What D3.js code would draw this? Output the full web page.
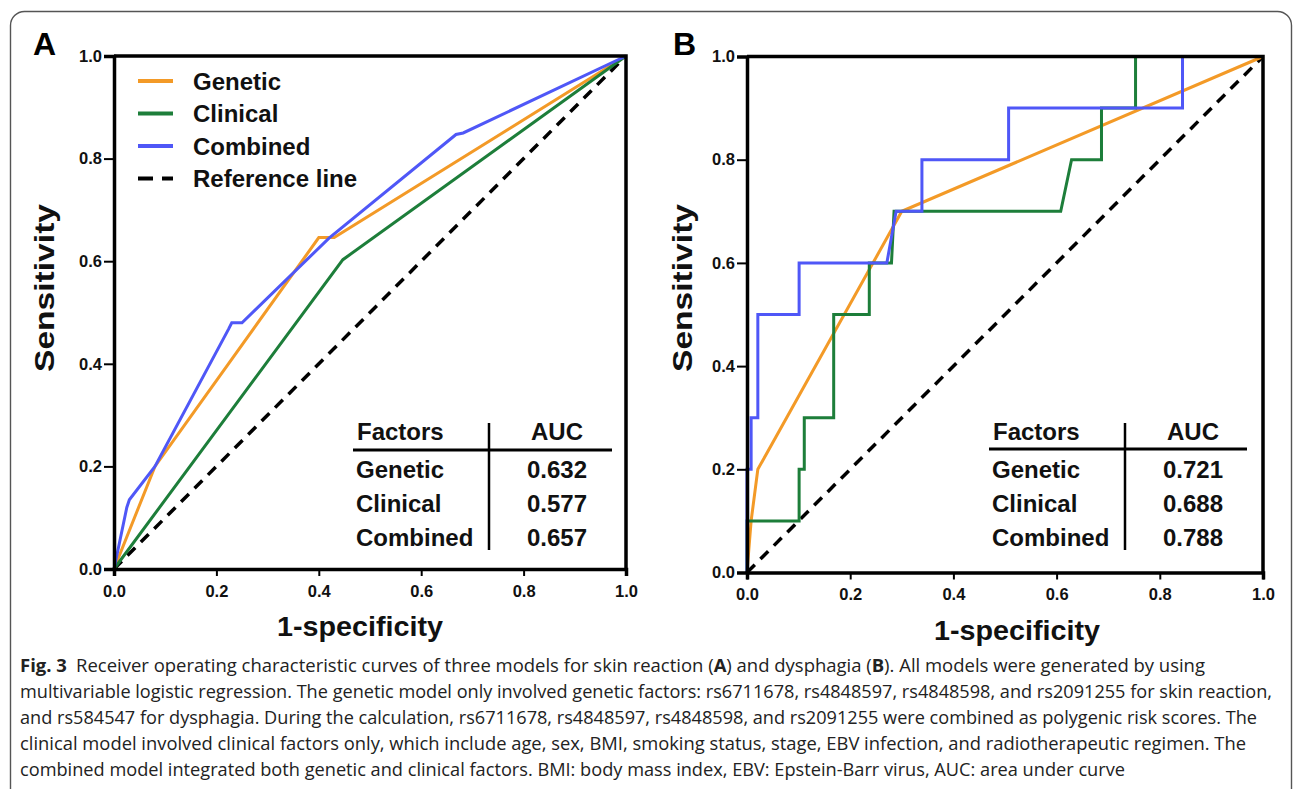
<!DOCTYPE html>
<html><head><meta charset="utf-8">
<script src="https://cdn.jsdelivr.net/npm/d3@7"></script>
<style>
html,body{margin:0;padding:0;background:#fff;}
svg{display:block;}
</style></head>
<body>
<svg id="chart" width="1293" height="789"></svg>
<script>
// ---------- data ----------
const ticks = [0, 0.2, 0.4, 0.6, 0.8, 1.0];
const seriesNames = ["Genetic", "Clinical", "Combined"];
const seriesColors = ["#F39A27", "#1D7E3A", "#4F57F7"];

// Panel A (skin reaction)
const A_genetic_x  = [0, 0.08, 0.40, 0.43, 1];
const A_genetic_y  = [0, 0.20, 0.646, 0.646, 1];
const A_clinical_x = [0, 0.447, 1];
const A_clinical_y = [0, 0.603, 1];
const A_combined_x = [0, 0.025, 0.03, 0.08, 0.224, 0.23, 0.25, 0.42, 0.668, 0.682, 1];
const A_combined_y = [0, 0.12, 0.135, 0.20, 0.468, 0.48, 0.48, 0.645, 0.847, 0.85, 1];
const A_auc = ["0.632", "0.577", "0.657"];

// Panel B (dysphagia)
const B_genetic_x  = [0, 0.008, 0.021, 0.30, 1];
const B_genetic_y  = [0, 0.10, 0.20, 0.70, 1];
const B_clinical_x = [0, 0, 0.101, 0.101, 0.111, 0.111, 0.168, 0.168, 0.237, 0.237, 0.28, 0.285, 0.608, 0.629, 0.687, 0.687, 0.753, 0.753, 1];
const B_clinical_y = [0, 0.1, 0.1, 0.2, 0.2, 0.3, 0.3, 0.5, 0.5, 0.6, 0.6, 0.7, 0.7, 0.8, 0.8, 0.9, 0.9, 1.0, 1.0];
const B_combined_x = [0, 0, 0.008, 0.008, 0.021, 0.021, 0.101, 0.101, 0.271, 0.289, 0.339, 0.339, 0.507, 0.507, 0.844, 0.844, 1];
const B_combined_y = [0, 0.2, 0.2, 0.3, 0.3, 0.5, 0.5, 0.6, 0.6, 0.7, 0.7, 0.8, 0.8, 0.9, 0.9, 1.0, 1.0];
const B_auc = ["0.721", "0.688", "0.788"];

const legendLabels = ["Genetic", "Clinical", "Combined", "Reference line"];
const tableHeader = ["Factors", "AUC"];
const xTitle = "1-specificity";
const yTitle = "Sensitivity";

const captionLines = [
  [["Fig. 3", true], ["\u2002Receiver operating characteristic curves of three models for skin reaction (", false], ["A", true], [") and dysphagia (", false], ["B", true], ["). All models were generated by using", false]],
  [["multivariable logistic regression. The genetic model only involved genetic factors: rs6711678, rs4848597, rs4848598, and rs2091255 for skin reaction,", false]],
  [["and rs584547 for dysphagia. During the calculation, rs6711678, rs4848597, rs4848598, and rs2091255 were combined as polygenic risk scores. The", false]],
  [["clinical model involved clinical factors only, which include age, sex, BMI, smoking status, stage, EBV infection, and radiotherapeutic regimen. The", false]],
  [["combined model integrated both genetic and clinical factors. BMI: body mass index, EBV: Epstein-Barr virus, AUC: area under curve", false]]
];
const captionLineEnds = [1205, 1272, 1257, 1246, 1125];

// ---------- drawing ----------
const svg = d3.select("#chart");
const FONT = "'Liberation Sans', Arial, Helvetica, sans-serif";

svg.append("rect").attr("x", 10.5).attr("y", 11.5).attr("width", 1281).attr("height", 820)
  .attr("rx", 14).attr("fill", "none").attr("stroke", "#555").attr("stroke-width", 1.4);

function panel(cfg) {
  const x = d3.scaleLinear().domain([0, 1]).range([cfg.x0, cfg.x1]);
  const y = d3.scaleLinear().domain([0, 1]).range([cfg.y0, cfg.y1]);
  const g = svg.append("g");

  g.append("text").attr("x", cfg.letterX).attr("y", 55).text(cfg.letter)
    .attr("font-family", FONT).attr("font-weight", "bold").attr("font-size", 32).attr("fill", "#000");

  const line = d3.line().x(d => x(d[0])).y(d => y(d[1]));
  g.append("path").datum([[0, 0], [1, 1]]).attr("d", line)
    .attr("stroke", "#000").attr("stroke-width", 3.5).attr("stroke-dasharray", "11,8").attr("fill", "none");

  cfg.series.forEach((s, i) => {
    const pts = s.x.map((v, k) => [v, s.y[k]]);
    g.append("path").datum(pts).attr("d", line)
      .attr("stroke", seriesColors[i]).attr("stroke-width", 3).attr("fill", "none")
      .attr("stroke-linejoin", "miter");
  });

  g.append("path").attr("d", `M${x(0)},${y(1)}H${x(1)}V${y(0)}`)
    .attr("stroke", "#000").attr("stroke-width", 3.5).attr("fill", "none");

  const fmt = d3.format(".1f");
  const ax = g.append("g").attr("transform", `translate(0,${y(0)})`)
    .call(d3.axisBottom(x).tickValues(ticks).tickFormat(fmt).tickSize(7).tickPadding(9));
  const ay = g.append("g").attr("transform", `translate(${x(0)},0)`)
    .call(d3.axisLeft(y).tickValues(ticks).tickFormat(fmt).tickSize(10).tickPadding(2));
  [ax, ay].forEach(a => {
    a.select(".domain").attr("stroke", "#000").attr("stroke-width", 3.5);
    a.selectAll(".tick line").attr("stroke", "#000").attr("stroke-width", 2);
    a.selectAll(".tick text").attr("font-family", FONT).attr("font-weight", "bold")
      .attr("font-size", 16.5).attr("fill", "#111");
  });

  g.append("text").attr("x", cfg.xTitleX).attr("y", cfg.y0 + 67).attr("text-anchor", "middle")
    .attr("font-family", FONT).attr("font-weight", "bold").attr("font-size", 27).attr("fill", "#111")
    .attr("textLength", 166).attr("lengthAdjust", "spacingAndGlyphs").text(xTitle);
  g.append("text").attr("transform", `translate(${cfg.yTitleX},${cfg.yTitleY}) rotate(-90)`)
    .attr("text-anchor", "middle")
    .attr("font-family", FONT).attr("font-weight", "bold").attr("font-size", 27.5).attr("fill", "#111")
    .attr("textLength", 168).attr("lengthAdjust", "spacingAndGlyphs").text(yTitle);

  const t = cfg.table;
  g.append("line").attr("x1", t.hx1).attr("x2", t.hx2).attr("y1", t.hy).attr("y2", t.hy)
    .attr("stroke", "#000").attr("stroke-width", 3);
  g.append("line").attr("x1", t.vx).attr("x2", t.vx).attr("y1", 423).attr("y2", 550)
    .attr("stroke", "#000").attr("stroke-width", 2.5);
  const txt = (xx, yy, s, anchor) => g.append("text").attr("x", xx).attr("y", yy).text(s)
    .attr("text-anchor", anchor).attr("font-family", FONT).attr("font-weight", "bold")
    .attr("font-size", 24).attr("fill", "#111");
  txt(t.leftX + 1, 440, tableHeader[0], "start");
  txt(t.aucX, 440, tableHeader[1], "middle");
  const rowsY = [478, 512, 546];
  seriesNames.forEach((n, i) => {
    txt(t.leftX, rowsY[i], n, "start");
    txt(t.aucX, rowsY[i], cfg.auc[i], "middle");
  });
  return g;
}

panel({
  letter: "A", letterX: 33, x0: 114, x1: 626, y0: 569, y1: 56,
  xTitleX: 360, yTitleX: 54, yTitleY: 288,
  series: [{x: A_genetic_x, y: A_genetic_y}, {x: A_clinical_x, y: A_clinical_y}, {x: A_combined_x, y: A_combined_y}],
  auc: A_auc,
  table: {hx1: 353, hx2: 612, hy: 450, vx: 489, leftX: 356, aucX: 557}
});
panel({
  letter: "B", letterX: 673, x0: 747, x1: 1263, y0: 572.5, y1: 56.5,
  xTitleX: 1017, yTitleX: 692, yTitleY: 288,
  series: [{x: B_genetic_x, y: B_genetic_y}, {x: B_clinical_x, y: B_clinical_y}, {x: B_combined_x, y: B_combined_y}],
  auc: B_auc,
  table: {hx1: 989, hx2: 1247, hy: 449, vx: 1125, leftX: 992, aucX: 1193}
});

const leg = svg.append("g");
legendLabels.forEach((lab, i) => {
  const ly = 81 + i * 32.5;
  leg.append("line").attr("x1", 138).attr("x2", 173).attr("y1", ly).attr("y2", ly)
    .attr("stroke", i < 3 ? seriesColors[i] : "#000").attr("stroke-width", 4)
    .attr("stroke-dasharray", i < 3 ? null : "15,9");
  leg.append("text").attr("x", 193).attr("y", ly + 8.5).text(lab)
    .attr("font-family", FONT).attr("font-weight", "bold").attr("font-size", 24).attr("fill", "#111");
});

const cap = svg.append("g");
const capX = 20;
captionLines.forEach((parts, i) => {
  const t = cap.append("text").attr("x", capX).attr("y", 672 + i * 26)
    .attr("font-family", "'Open Sans', 'Noto Sans', sans-serif").attr("font-size", 18).attr("fill", "#222")
    .attr("textLength", captionLineEnds[i] - capX).attr("lengthAdjust", "spacingAndGlyphs");
  parts.forEach(([s, b]) => t.append("tspan").attr("font-weight", b ? "bold" : "normal").text(s));
});
</script>
</body></html>
